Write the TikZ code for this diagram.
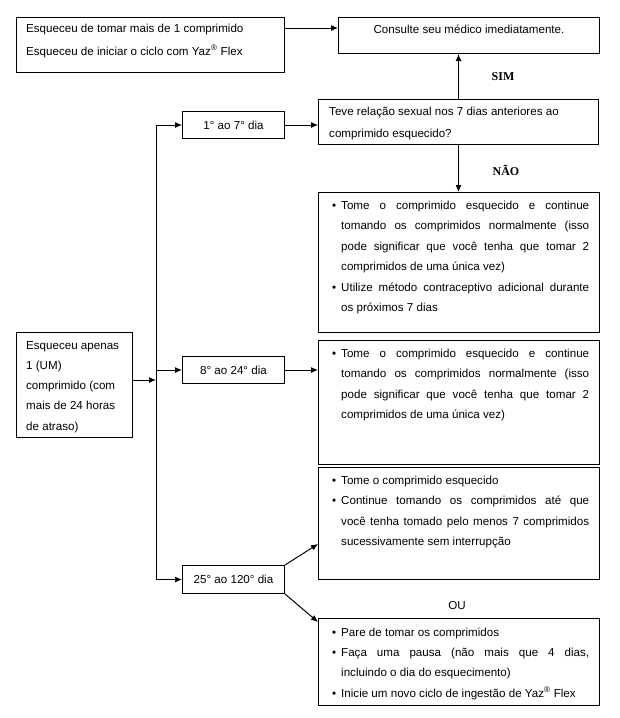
\documentclass[tikz,border=0pt]{standalone}
\usepackage{fontspec}
\setmainfont{Liberation Sans}
\newfontfamily\serifbold{Liberation Serif}
\usetikzlibrary{arrows.meta,calc}
\newcommand{\jline}[1]{\makebox[248pt][s]{#1}\\}
\newcommand{\bul}{\llap{\textbullet\hspace{5pt}}}
\newcommand{\topst}{\rule{0pt}{10pt}}
\tikzset{
  box/.style={draw, line width=1pt, inner sep=0pt, anchor=north west},
  txt/.style={inner sep=0pt, anchor=north west, align=left, font=\fontsize{11.6}{20.5}\selectfont},
  lbl/.style={inner sep=0pt, font=\fontsize{11.6}{14}\selectfont},
  arr/.style={line width=1pt, -{Latex[length=7pt,width=6pt]}},
  ln/.style={line width=1pt}
}
\begin{document}
\begin{tikzpicture}[x=1pt,y=-1pt]
\useasboundingbox (0,0) rectangle (619,718);
% boxes
\node[box, minimum width=268pt, minimum height=55pt] (a) at (16,17) {};
\node[box, minimum width=261pt, minimum height=36pt] (b) at (338,17) {};
\node[box, minimum width=280pt, minimum height=45pt] (q) at (318,99) {};
\node[box, minimum width=102pt, minimum height=27pt] (d1) at (182,111) {};
\node[box, minimum width=281pt, minimum height=140pt] (r1) at (318,192) {};
\node[box, minimum width=116pt, minimum height=105pt] (e) at (16,332) {};
\node[box, minimum width=102pt, minimum height=27pt] (d2) at (182,356) {};
\node[box, minimum width=281pt, minimum height=124pt] (r2) at (318,340) {};
\node[box, minimum width=281pt, minimum height=112pt] (r3) at (318,467) {};
\node[box, minimum width=102pt, minimum height=28pt] (d3) at (182,565) {};
\node[box, minimum width=281pt, minimum height=87pt] (r4) at (318,618) {};
% texts
\node[txt, font=\fontsize{11.6}{23}\selectfont] (ta) at (26,22) {\topst Esqueceu de tomar mais de 1 comprimido\\Esqueceu de iniciar o ciclo com Yaz\textsuperscript{®} Flex};
\node[lbl, anchor=base] (tb) at ([yshift=-16pt]b.north) {Consulte seu médico imediatamente.};
\node[txt, font=\fontsize{11.6}{22}\selectfont] (tq) at (329,105) {\topst Teve relação sexual nos 7 dias anteriores ao\\comprimido esquecido?};
\node[lbl] (td1) at (d1.center) {1° ao 7° dia};
\node[lbl] (td2) at (d2.center) {8° ao 24° dia};
\node[lbl] (td3) at (d3.center) {25° ao 120° dia};
\node[txt, font=\fontsize{11.6}{20.2}\selectfont] (te) at (26,339) {\topst Esqueceu apenas\\1 (UM)\\comprimido (com\\mais de 24 horas\\de atraso)};
\node[txt] (tr1) at (341,199) {\topst\bul\jline{Tome o comprimido esquecido e continue}\jline{tomando os comprimidos normalmente (isso}\jline{pode significar que você tenha que tomar 2}comprimidos de uma única vez)\\\bul\jline{Utilize método contraceptivo adicional durante}os próximos 7 dias};
\node[txt] (tr2) at (341,347) {\topst\bul\jline{Tome o comprimido esquecido e continue}\jline{tomando os comprimidos normalmente (isso}\jline{pode significar que você tenha que tomar 2}comprimidos de uma única vez)};
\node[txt] (tr3) at (341,474) {\topst\bul Tome o comprimido esquecido\\\bul\jline{Continue tomando os comprimidos até que}\jline{você tenha tomado pelo menos 7 comprimidos}sucessivamente sem interrupção};
\node[txt, font=\fontsize{11.6}{20.3}\selectfont] (tr4) at (341,626) {\topst\bul Pare de tomar os comprimidos\\\bul\jline{Faça uma pausa (não mais que 4 dias,}incluindo o dia do esquecimento)\\\bul Inicie um novo ciclo de ingestão de Yaz\textsuperscript{®} Flex};
\node[lbl, font=\serifbold\bfseries\fontsize{12}{14}\selectfont] (sim) at (503,77) {SIM};
\node[lbl, font=\serifbold\bfseries\fontsize{12}{14}\selectfont] (nao) at (506,170) {NÃO};
\node[lbl] (ou) at (457,605) {OU};
% connectors
\coordinate (tt) at (156,0);
\draw[arr] ([yshift=-11pt]a.north east) -- ([yshift=-11pt]b.north west);
\draw[arr] (q.north) -- (q.north |- b.south);
\draw[arr] (q.south) -- (q.south |- r1.north);
\draw[ln] (tt |- d1.west) -- (tt |- d3.west);
\draw[arr] (tt |- d1.west) -- (d1.west);
\draw[arr] (tt |- d2.west) -- (d2.west);
\draw[arr] (tt |- d3.west) -- (d3.west);
\draw[arr] ([yshift=5pt]e.east) -- ([yshift=5pt]e.east -| tt);
\draw[arr] (d1.east) -- (d1.east -| q.west);
\draw[arr] (d2.east) -- (d2.east -| r2.west);
\draw[arr] (d3.north east) -- ([yshift=36pt]r3.south west);
\draw[arr] (d3.south east) -- ([yshift=-4pt]r4.north west);
\end{tikzpicture}
\end{document}
